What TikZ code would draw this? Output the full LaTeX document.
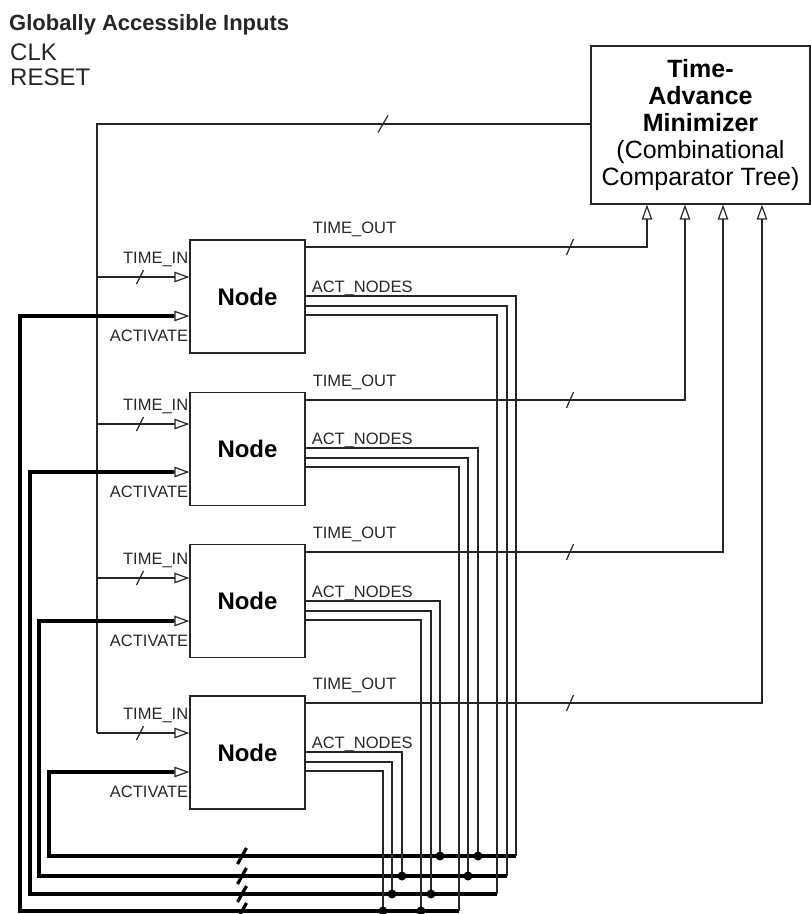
\documentclass[tikz,border=0pt]{standalone}
\usepackage{fontspec}
\setmainfont{Liberation Sans}
\usetikzlibrary{arrows.meta,calc}
\newcommand\tickmark[4]{\draw[#1] ($(#2)+(-#3,#4)$) -- ($(#2)+(#3,-#4)$);}
\begin{document}
\begin{tikzpicture}[x=1pt,y=-1pt]
\tikzset{
  wire/.style={line width=1.2pt, draw=black!85, line join=miter},
  bus/.style={line width=3.2pt, draw=black, line join=miter},
  openarr/.style={wire, -{Triangle[open, length=15pt, width=10.5pt]}},
  nodebox/.style={draw=black!85, line width=1.2pt, minimum width=115pt, minimum height=113pt, inner sep=0pt, font=\bfseries\fontsize{24}{28}\selectfont},
  minbox/.style={draw=black!85, line width=1.2pt, minimum width=219pt, minimum height=158pt, inner sep=0pt, align=center, font=\fontsize{25}{27.2}\selectfont},
  lbl/.style={inner sep=0pt, font=\fontsize{16.5}{18}\selectfont, text=black!85},
  head/.style={inner sep=0pt, anchor=base west, text=black!85},
}
\useasboundingbox (0,0) rectangle (811,914);

% heading texts
\node[head, font=\bfseries\fontsize{22}{26}\selectfont] (title) at (9,30) {Globally Accessible Inputs};
\node[head, font=\fontsize{24}{28}\selectfont] (clk) at (10,60) {CLK};
\node[head, font=\fontsize{24}{28}\selectfont] (rst) at (10,85) {RESET};

% minimizer
\node[minbox] (m) at (700.5,125) {\textbf{Time-}\\\textbf{Advance}\\\textbf{Minimizer}\\(Combinational\\Comparator Tree)};

% nodes
\node[nodebox] (n1) at (247.5,296.5) {Node};
\node[nodebox] (n2) at (247.5,449) {Node};
\node[nodebox] (n3) at (247.5,601) {Node};
\node[nodebox] (n4) at (247.5,752.5) {Node};

% time bus
\coordinate (tb) at (97,124);
\coordinate (ti1) at (97,277);
\coordinate (ti2) at (97,424);
\coordinate (ti3) at (97,578);
\coordinate (ti4) at (97,733);
\draw[wire] (m.west |- tb) -- (tb) -- (ti4);
\tickmark{wire}{383,124}{5}{8.5}
\foreach \k in {1,2,3,4}{
  \draw[openarr] (ti\k) -- (ti\k -| n\k.west);
  \tickmark{wire}{140,0 |- ti\k}{3.5}{7}
}

% TIME_OUT
\coordinate (to1) at (647,247);
\coordinate (to2) at (685,400);
\coordinate (to3) at (723,552);
\coordinate (to4) at (762,703);
\foreach \k in {1,2,3,4}{
  \draw[openarr] (to\k -| n\k.east) -- (to\k) -- (to\k |- m.south);
  \tickmark{wire}{570,0 |- to\k}{3.5}{8}
  \node[lbl, anchor=base west] (tol\k) at ($(to\k -| n\k.east)+(7,-14)$) {TIME\_OUT};
}

% ACTIVATE inputs and buses
\coordinate (ac1) at (20,316);
\coordinate (ac2) at (30,472);
\coordinate (ac3) at (39,621);
\coordinate (ac4) at (49,772);
\coordinate (b1) at (20,911);
\coordinate (b2) at (30,894);
\coordinate (b3) at (39,876);
\coordinate (b4) at (49,856);

% ACT_NODES outputs: a outer, b middle, c inner
\coordinate (o1a) at (516,296); \coordinate (o1b) at (507,306); \coordinate (o1c) at (497,315);
\coordinate (o2a) at (478,448); \coordinate (o2b) at (468,458); \coordinate (o2c) at (459,467);
\coordinate (o3a) at (440,601); \coordinate (o3b) at (431,611); \coordinate (o3c) at (421,620);
\coordinate (o4a) at (402,752); \coordinate (o4b) at (392,762); \coordinate (o4c) at (383,771);

\draw[bus] ($(ac1 -| n1.west)+(-15.5,0)$) -- (ac1) -- (b1) -- (b1 -| o2c);
\draw[bus] ($(ac2 -| n2.west)+(-15.5,0)$) -- (ac2) -- (b2) -- (b2 -| o1c);
\draw[bus] ($(ac3 -| n3.west)+(-15.5,0)$) -- (ac3) -- (b3) -- (b3 -| o1b);
\draw[bus] ($(ac4 -| n4.west)+(-15.5,0)$) -- (ac4) -- (b4) -- (b4 -| o1a);
\foreach \k in {1,2,3,4}{
  \draw[openarr] ($(ac\k -| n\k.west)+(-16,0)$) -- (ac\k -| n\k.west);
  \node[lbl, anchor=base east] (acl\k) at ($(ac\k -| n\k.west)+(-1,25)$) {ACTIVATE};
  \node[lbl, anchor=base east] (til\k) at ($(ti\k -| n\k.west)+(-1,-14)$) {TIME\_IN};
  \node[lbl, anchor=base west] (anl\k) at ($(o\k a -| n\k.east)+(6,-4)$) {ACT\_NODES};
  \tickmark{bus}{242,0 |- b\k}{4.5}{8}
}

% output routings
\draw[wire] (o1a -| n1.east) -- (o1a) -- (o1a |- b4);
\draw[wire] (o1b -| n1.east) -- (o1b) -- (o1b |- b3);
\draw[wire] (o1c -| n1.east) -- (o1c) -- (o1c |- b2);
\draw[wire] (o2a -| n2.east) -- (o2a) -- (o2a |- b4);
\draw[wire] (o2b -| n2.east) -- (o2b) -- (o2b |- b3);
\draw[wire] (o2c -| n2.east) -- (o2c) -- (o2c |- b1);
\draw[wire] (o3a -| n3.east) -- (o3a) -- (o3a |- b4);
\draw[wire] (o3b -| n3.east) -- (o3b) -- (o3b |- b2);
\draw[wire] (o3c -| n3.east) -- (o3c) -- (o3c |- b1);
\draw[wire] (o4a -| n4.east) -- (o4a) -- (o4a |- b3);
\draw[wire] (o4b -| n4.east) -- (o4b) -- (o4b |- b2);
\draw[wire] (o4c -| n4.east) -- (o4c) -- (o4c |- b1);

% junction dots
\foreach \p/\b in {o2a/b4, o3a/b4, o2b/b3, o4a/b3, o3b/b2, o4b/b2, o3c/b1, o4c/b1}{
  \fill[black] (\p |- \b) circle (4.5pt);
}
\end{tikzpicture}
\end{document}
